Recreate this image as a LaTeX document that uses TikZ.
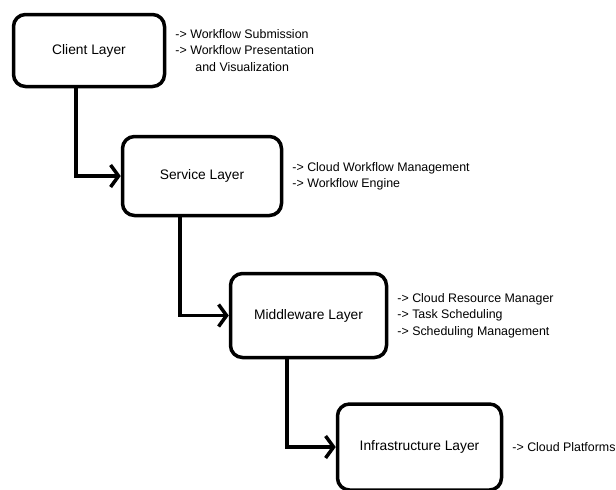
\documentclass[tikz,border=0pt]{standalone}
\usepackage{fontspec}
\setmainfont{Liberation Sans}
\usetikzlibrary{positioning,arrows.meta}

\tikzset{
  layer/.style={draw, line width=3.5pt, rounded corners=12pt, inner sep=0pt,
    font=\fontsize{13.8}{16}\selectfont},
  note/.style={anchor=west, align=left, inner sep=0pt,
    font=\fontsize{12.4}{16.3}\selectfont},
  link/.style={line width=3.5pt, -{Straight Barb[length=8pt,width=22pt]}},
}

\begin{document}
\begin{tikzpicture}[x=1pt,y=-1pt]
  \useasboundingbox (0,0) rectangle (616,490);

  % the four layers
  \node[layer, minimum width=151pt, minimum height=72pt] (client) at (89,50.5) {Client Layer};
  \node[layer, minimum width=159pt, minimum height=79pt] (service) at (202,176) {Service Layer};
  \node[layer, minimum width=156pt, minimum height=84pt] (middle) at (308.5,315.5) {Middleware Layer};
  \node[layer, minimum width=164pt, minimum height=86pt] (infra) at (419.5,447) {Infrastructure Layer};

  % what each layer does
  \node[note, right=9pt of client] (clientnote) {-> Workflow Submission\\-> Workflow Presentation\\\hspace*{20pt}and Visualization};
  \node[note, right=9pt of service] (servicenote) {-> Cloud Workflow Management\\-> Workflow Engine};
  \node[note, right=9pt of middle] (middlenote) {-> Cloud Resource Manager\\-> Task Scheduling\\-> Scheduling Management};
  \node[note, right=9pt of infra] (infranote) {-> Cloud Platforms};

  % links down the stack
  \draw[link] ([xshift=64pt]client.south west) |- (service.west);
  \draw[link] ([xshift=59pt]service.south west) |- (middle.west);
  \draw[link] ([xshift=58pt]middle.south west) |- (infra.west);
\end{tikzpicture}
\end{document}
